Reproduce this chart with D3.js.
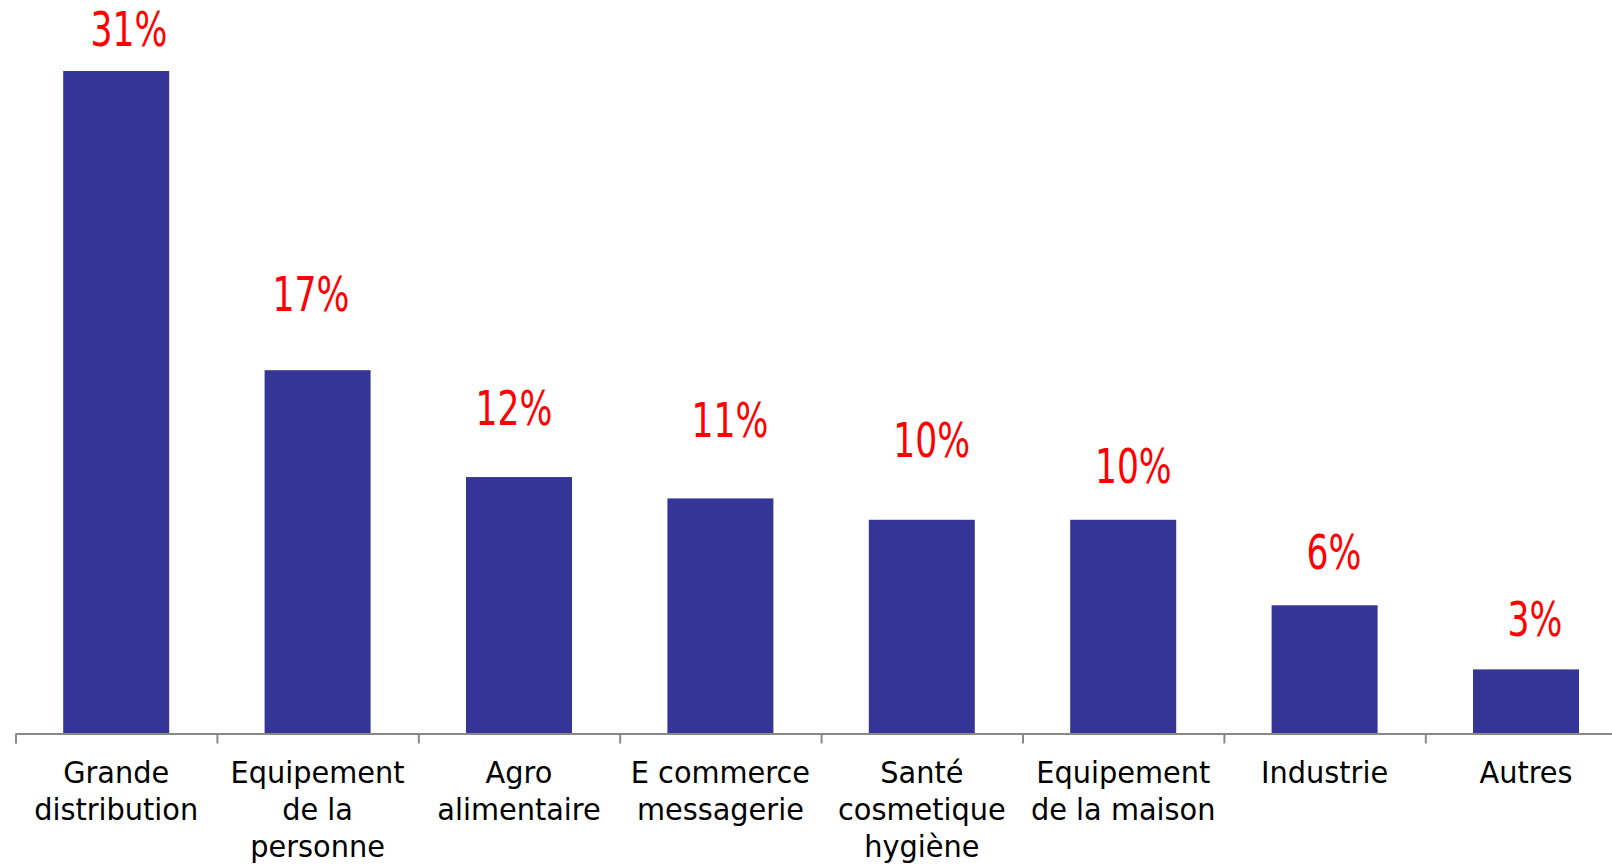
<!DOCTYPE html>
<html>
<head>
<meta charset="utf-8">
<script src="https://cdn.jsdelivr.net/npm/d3@7"></script>
<style>
  html, body { margin: 0; padding: 0; background: #fff; }
  svg { display: block; }
</style>
</head>
<body>
<script>
// Sector breakdown (share of total, %)
const categories = [
  "Grande\ndistribution",
  "Equipement\nde la\npersonne",
  "Agro\nalimentaire",
  "E commerce\nmessagerie",
  "Santé\ncosmetique\nhygiène",
  "Equipement\nde la maison",
  "Industrie",
  "Autres"
];
const values = [31, 17, 12, 11, 10, 10, 6, 3];
const valueLabels = ["31%", "17%", "12%", "11%", "10%", "10%", "6%", "3%"];

// Hand placement of each value label relative to its bar (dx from centre, dy from top)
const labelNudge = [[12.8, -25], [-6.6, -59], [-5, -52], [9.6, -61], [9.9, -62.5], [10.1, -36.7], [9.4, -36], [9, -33.7]];

const W = 1612, H = 865;
const left = 15.5, step = 201.4, baseY = 733.5, topY = 71;

const svg = d3.select("body").append("svg").attr("width", W).attr("height", H);

const x = d3.scaleBand()
  .domain(categories)
  .range([left, left + step * categories.length])
  .paddingInner(0.4737)
  .paddingOuter(0.2368);

const y = d3.scaleLinear().domain([0, 31]).range([baseY, topY]);

// Bars
svg.append("g").selectAll("rect")
  .data(values)
  .join("rect")
  .attr("x", (d, i) => x(categories[i]))
  .attr("y", d => y(d))
  .attr("width", x.bandwidth())
  .attr("height", d => y(0) - y(d))
  .attr("fill", "#353598");

// Category axis: baseline with tick marks on band boundaries
const edges = d3.scaleLinear().domain([0, categories.length]).range(x.range());
const axis = svg.append("g")
  .attr("transform", `translate(0,${baseY})`)
  .call(d3.axisBottom(edges).tickValues(d3.range(categories.length + 1)).tickSize(10).tickSizeOuter(0).tickFormat(""));
axis.select(".domain").attr("stroke", "#888").attr("stroke-width", 2);
axis.selectAll(".tick line").attr("stroke", "#888").attr("stroke-width", 2);

// Category labels (multi-line, centred under each bar)
const catG = svg.append("g").selectAll("g")
  .data(categories)
  .join("g")
  .attr("transform", d => `translate(${x(d) + x.bandwidth() / 2},783) scale(0.96,1)`);
catG.append("text")
  .attr("text-anchor", "middle")
  .attr("font-family", "'DejaVu Sans', sans-serif")
  .attr("font-size", 30)
  .attr("fill", "#000")
  .selectAll("tspan")
  .data(d => d.split("\n"))
  .join("tspan")
  .attr("x", 0)
  .attr("y", (d, i) => i * 37)
  .text(d => d);

// Value labels
svg.append("g").selectAll("g")
  .data(values)
  .join("g")
  .attr("transform", (d, i) => `translate(${x(categories[i]) + x.bandwidth() / 2 + labelNudge[i][0]},${y(d) + labelNudge[i][1]}) scale(0.72,1)`)
  .append("text")
  .attr("text-anchor", "middle")
  .attr("font-family", "'DejaVu Sans', sans-serif")
  .attr("font-size", 48)
  .attr("fill", "#ff0000")
  .text((d, i) => valueLabels[i]);
</script>
</body>
</html>
